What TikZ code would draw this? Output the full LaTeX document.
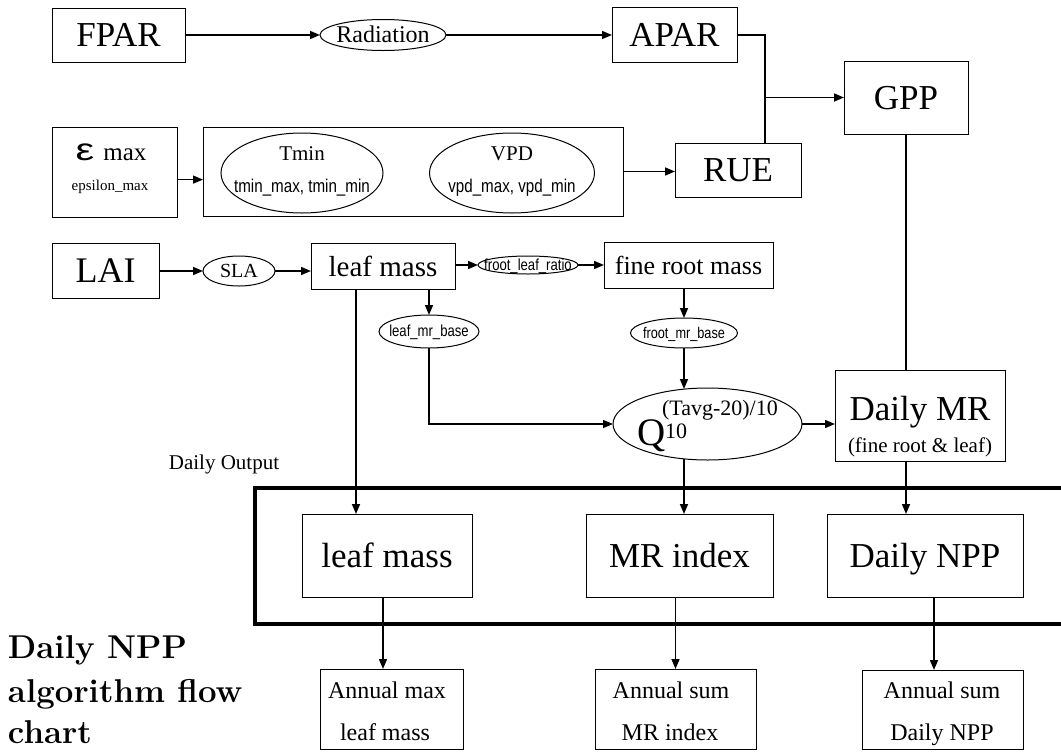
\documentclass[tikz,border=0pt]{standalone}
\usepackage{graphicx}
\usepackage{fontspec}
\newfontfamily\tnr{Liberation Serif}
\newfontfamily\narrowsans[FakeStretch=0.82]{Liberation Sans}
\newfontfamily\greekfont{Liberation Sans}
\usetikzlibrary{arrows.meta,shapes.geometric}

\newcommand\fsz[1]{\fontsize{#1}{#1}\selectfont}
% text of zero size, centred on its visual middle
\newcommand\ctr[1]{\makebox[0pt]{\raisebox{-0.33em}[0pt][0pt]{#1}}}

\begin{document}
\begin{tikzpicture}[x=1pt,y=-1pt,
  every node/.style={inner sep=0pt, outer sep=0pt},
  box/.style={draw, line width=1pt, rectangle},
  oval/.style={draw, line width=1pt, ellipse},
  link/.style={line width=1.1pt},
  arr/.style={line width=1.5pt, -{Triangle[length=10pt,width=8pt]}},
  frame/.style={line width=4.5pt, line join=miter},
  big/.style={font=\tnr\fsz{35}, text depth=0pt},
]
\useasboundingbox (0,0) rectangle (1061,753);
\fill[white] (0,0) rectangle (1061,753);

% ---------- first row ----------
\node[box, big, minimum width=133pt, minimum height=54pt] (fpar) at (118.5,35) {FPAR};
\node[oval, font=\tnr\fsz{24}, minimum width=126pt, minimum height=31pt] (rad) at (383,35) {\ctr{Radiation}};
\node[box, big, minimum width=125pt, minimum height=55pt] (apar) at (674.5,35) {APAR};
\node[box, big, minimum width=124pt, minimum height=73pt] (gpp) at (906,97.5) {GPP};
\node[box, big, minimum width=126pt, minimum height=54pt] (rue) at (738,170) {RUE};
\coordinate (join) at (765,97.5);

% ---------- second row ----------
\node[box, minimum width=125pt, minimum height=90pt] (eps) at (114.5,172) {};
\node[font=\tnr\fsz{25}, anchor=base] (epsname) at (111,160)
  {{\greekfont\fsz{31}\scalebox{1.35}[1]{ε}}\hspace{9pt}max};
\node[font=\tnr\fsz{15}, anchor=base] (epsvar) at (110,190) {epsilon\_max};

\node[box, minimum width=420pt, minimum height=89pt] (clim) at (413,171.5) {};
\node[oval, minimum width=162pt, minimum height=80pt] (tmin) at (302,173) {};
\node[font=\tnr\fsz{21}, anchor=base] (tminname) at (302,160) {Tmin};
\node[font=\narrowsans\fsz{18.5}, anchor=base] (tminvar) at (302,192) {tmin\_max, tmin\_min};
\node[oval, minimum width=165pt, minimum height=80pt] (vpd) at (512,173) {};
\node[font=\tnr\fsz{21}, anchor=base] (vpdname) at (512,160) {VPD};
\node[font=\narrowsans\fsz{18.5}, anchor=base] (vpdvar) at (512,192) {vpd\_max, vpd\_min};

% ---------- third row ----------
\node[box, font=\tnr\fsz{36}, minimum width=107pt, minimum height=55pt] (lai) at (105.5,271) {LAI};
\node[oval, font=\tnr\fsz{20}, minimum width=72pt, minimum height=30pt] (sla) at (239,271) {\ctr{SLA}};
\node[box, font=\tnr\fsz{29}, minimum width=144pt, minimum height=46pt] (leaf) at (383,266) {leaf mass};
\node[oval, font=\narrowsans\fsz{16}, minimum width=100pt, minimum height=18pt] (flr) at (528,265) {\ctr{froot\_leaf\_ratio}};
\node[box, font=\tnr\fsz{26}, minimum width=169pt, minimum height=46pt] (froot) at (688.5,265) {fine root mass};
\node[oval, font=\narrowsans\fsz{16}, minimum width=100pt, minimum height=33pt] (lmr) at (429,331.5) {\ctr{leaf\_mr\_base}};
\node[oval, font=\narrowsans\fsz{15.5}, minimum width=107pt, minimum height=30pt] (fmr) at (684,333) {\ctr{froot\_mr\_base}};

% Q10 temperature factor
\node[oval, minimum width=189pt, minimum height=72pt] (q10) at (707.5,424) {};
\node[font=\tnr\fsz{39}, anchor=base west] (qbase) at (637,445) {Q};
\node[font=\tnr\fsz{22}, anchor=base west] (qexp) at (662,415) {(Tavg-20)/10};
\node[font=\tnr\fsz{22}, anchor=base west] (qsub) at (665,438) {10};

\node[box, minimum width=170pt, minimum height=91pt] (dmr) at (920,415.5) {};
\node[font=\tnr\fsz{35}, anchor=base] (dmrname) at (920,420) {Daily MR};
\node[font=\tnr\fsz{21}, anchor=base] (dmrnote) at (920,452) {(fine root \& leaf)};

\node[font=\tnr\fsz{21}, anchor=base] (dout) at (224,469) {Daily Output};

% ---------- daily output frame ----------
\draw[frame] (1061,488) -- (255,488) -- (255,624) -- (1061,624);

\node[box, big, minimum width=170pt, minimum height=83pt] (leafout) at (387,555.5) {leaf mass};
\node[box, big, minimum width=187pt, minimum height=83pt] (mri) at (679.5,555.5) {MR index};
\node[box, big, minimum width=196pt, minimum height=83pt] (dnpp) at (925,555.5) {Daily NPP};

% ---------- annual summaries ----------
\node[box, minimum width=143pt, minimum height=80pt] (amax) at (391.5,709) {};
\node[font=\tnr\fsz{24}, anchor=base] (amax1) at (387,698) {Annual max};
\node[font=\tnr\fsz{24}, anchor=base] (amax2) at (385,740) {leaf mass};
\node[box, minimum width=161pt, minimum height=80pt] (asum) at (675.5,709) {};
\node[font=\tnr\fsz{24}, anchor=base] (asum1) at (671,698) {Annual sum};
\node[font=\tnr\fsz{24}, anchor=base] (asum2) at (670,740) {MR index};
\node[box, minimum width=161pt, minimum height=79pt] (anpp) at (942.5,709.5) {};
\node[font=\tnr\fsz{24}, anchor=base] (anpp1) at (942,698) {Annual sum};
\node[font=\tnr\fsz{24}, anchor=base] (anpp2) at (942,740) {Daily NPP};

% ---------- title ----------
\node[font=\bfseries\fsz{33}, anchor=base west] (title1) at (8,658) {Daily NPP};
\node[font=\bfseries\fsz{33}, anchor=base west] (title2) at (8,702) {algorithm flow};
\node[font=\bfseries\fsz{33}, anchor=base west] (title3) at (8,743) {chart};

% ---------- connectors ----------
\coordinate (xleaf) at (356,0);
\coordinate (xmax) at (383,0);
\coordinate (xnpp) at (934,0);

\draw[arr] (fpar.east) -- (rad.west);
\draw[arr] (rad.east) -- (apar.west);
\draw[link] (apar.east) -| (join) -- (join |- rue.north);
\draw[arr] (join) -- (gpp.west);

\draw[arr] (eps.east |- epsvar.north) -- (clim.west |- epsvar.north);
\draw[arr] (clim.east) -- (clim.east -| rue.west);

\draw[arr] (lai.east) -- (sla.west);
\draw[arr] (sla.east) -- (sla.east -| leaf.west);
\draw[arr] (flr.west -| leaf.east) -- (flr.west);
\draw[arr] (flr.east) -- (flr.east -| froot.west);

\draw[arr] (leaf.south -| lmr.north) -- (lmr.north);
\draw[arr] (lmr.south) |- (q10.west);
\draw[arr] (leaf.south -| xleaf) -- (leafout.north -| xleaf);

\draw[arr] (froot.south -| fmr.north) -- (fmr.north);
\draw[arr] (fmr.south) -- ([yshift=-1pt]q10.north -| fmr.south);
\draw[arr] (q10.east) -- (q10.east -| dmr.west);
\draw[link] (gpp.south) -- (gpp.south |- dmr.north);

\draw[arr] ([yshift=1pt]q10.south -| fmr.south) -- (mri.north -| fmr.south);
\draw[arr] (dmr.south -| gpp.south) -- (dnpp.north -| gpp.south);

\draw[arr] (leafout.south -| xmax) -- (amax.north -| xmax);
\draw[arr] (mri.south -| asum.north) -- (asum.north);
\draw[arr] (dnpp.south -| xnpp) -- (anpp.north -| xnpp);
\end{tikzpicture}
\end{document}
